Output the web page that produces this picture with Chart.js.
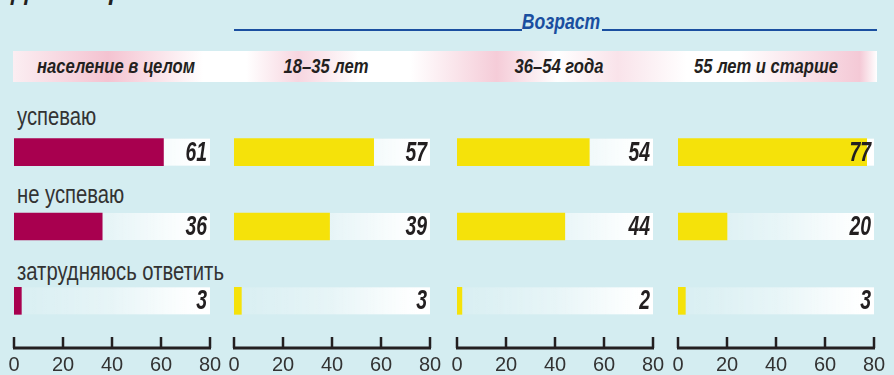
<!DOCTYPE html>
<html>
<head>
<meta charset="utf-8">
<script src="https://cdn.jsdelivr.net/npm/chart.js@4.4.0/dist/chart.umd.min.js"></script>
<style>
  body {
    margin: 0;
    width: 894px;
    height: 375px;
    overflow: hidden;
    position: relative;
    background: #d4edf1;
    font-family: 'Liberation Sans', Arial, sans-serif;
    color: #231f20;
  }
  .abs { position: absolute; white-space: nowrap; }
  .title { left: 12px; top: -22px; font-size: 24px; font-weight: bold; font-style: italic; }
  .band {
    left: 13px; top: 51px; width: 864px; height: 31px;
    background: linear-gradient(90deg, #fbeef2 0%, #f4c3d1 11%, #ffffff 22%, #ffffff 27%, #f7d6e0 33%, #ffffff 40%,
      #ffffff 46%, #f5ccd8 56%, #ffffff 63%, #f9e3ea 70%, #ffffff 78%, #ffffff 84%, #f4c9d6 98%, #ffffff 100%);
  }
  .head { top: 55px; font-size: 20px; font-weight: bold; font-style: italic; transform: translateX(-50%) scaleX(0.83); }
  .age { top: 9px; left: 561px; transform: translateX(-50%) scaleX(0.8); font-size: 22px; font-weight: bold; font-style: italic; color: #1a4fa0; }
  .rule { top: 29px; height: 2px; background: #1a4fa0; }
  .cat { left: 17px; font-size: 25px; color: #333; transform: scaleX(0.81); transform-origin: 0 0; }
  canvas { position: absolute; top: 100px; }
</style>
</head>
<body>
<div class="abs title">Доля опрошенных</div>
<div class="abs rule" style="left:234px;width:288px"></div>
<div class="abs age">Возраст</div>
<div class="abs rule" style="left:602px;width:275px"></div>
<div class="abs band"></div>
<div id="heads"></div>
<div id="cats"></div>

<script>
// ответы и группы
const categories = ['успеваю', 'не успеваю', 'затрудняюсь ответить'];
const groups = ['население в целом', '18–35 лет', '36–54 года', '55 лет и старше'];

// проценты по группам
const totalValues = [61, 36, 3];
const age18to35 = [57, 39, 3];
const age36to54 = [54, 44, 2];
const age55plus = [77, 20, 3];

const tickValues = [0, 20, 40, 60, 80];

const allValues = [totalValues, age18to35, age36to54, age55plus];
const barColors = ['#a8004f', '#f5e20a', '#f5e20a', '#f5e20a'];

// раскладка панелей
const panelLeft = [14, 234, 457, 678];
const headCenter = [116, 326, 559, 766];
const catCenter = [117, 195, 272];

const heads = document.getElementById('heads');
groups.forEach((g, i) => {
  const d = document.createElement('div');
  d.className = 'abs head';
  d.style.left = headCenter[i] + 'px';
  d.textContent = g;
  heads.appendChild(d);
});

const cats = document.getElementById('cats');
categories.forEach((c, i) => {
  const d = document.createElement('div');
  d.className = 'abs cat';
  d.style.top = (catCenter[i] - 15) + 'px';
  d.textContent = c;
  cats.appendChild(d);
});

// белая подложка под каждым столбиком, от 0 до 80
const trackPlugin = {
  id: 'track',
  beforeDatasetsDraw(chart) {
    const ctx = chart.ctx;
    const x = chart.scales.x;
    const left = x.getPixelForValue(tickValues[0]);
    const right = x.getPixelForValue(tickValues[tickValues.length - 1]);
    const g = ctx.createLinearGradient(left, 0, right, 0);
    g.addColorStop(0, 'rgba(255,255,255,0.1)');
    g.addColorStop(0.5, 'rgba(255,255,255,0.45)');
    g.addColorStop(0.85, 'rgba(255,255,255,0.9)');
    g.addColorStop(0.94, 'rgba(255,255,255,1)');
    g.addColorStop(1, 'rgba(255,255,255,1)');
    ctx.save();
    ctx.fillStyle = g;
    chart.getDatasetMeta(0).data.forEach(bar => {
      ctx.fillRect(left, bar.y - bar.height / 2, right - left, bar.height);
    });
    ctx.restore();
  }
};

// значения справа у конца шкалы, узким жирным курсивом
const valuePlugin = {
  id: 'values',
  afterDatasetsDraw(chart) {
    const ctx = chart.ctx;
    const right = chart.scales.x.getPixelForValue(tickValues[tickValues.length - 1]);
    const data = chart.data.datasets[0].data;
    ctx.save();
    ctx.font = "italic bold 27px 'Liberation Sans', Arial, sans-serif";
    ctx.fillStyle = '#231f20';
    ctx.textAlign = 'right';
    ctx.textBaseline = 'middle';
    chart.getDatasetMeta(0).data.forEach((bar, i) => {
      ctx.save();
      ctx.translate(right - 3, bar.y + 1);
      ctx.scale(0.72, 1);
      ctx.fillText(data[i], 0, 0);
      ctx.restore();
    });
    ctx.restore();
  }
};

// ось снизу, засечки смотрят вверх
const axisPlugin = {
  id: 'axisLine',
  afterDraw(chart) {
    const ctx = chart.ctx;
    const x = chart.scales.x;
    const y = chart.chartArea.bottom + 10;
    ctx.save();
    ctx.strokeStyle = '#231f20';
    ctx.lineWidth = 3;
    ctx.beginPath();
    ctx.moveTo(x.getPixelForValue(tickValues[0]) - 1, y);
    ctx.lineTo(x.getPixelForValue(tickValues[tickValues.length - 1]) + 1, y);
    ctx.stroke();
    ctx.lineWidth = 2.5;
    tickValues.forEach(v => {
      const px = x.getPixelForValue(v);
      ctx.beginPath();
      ctx.moveTo(px, y);
      ctx.lineTo(px, y - 11);
      ctx.stroke();
    });
    ctx.restore();
  }
};

allValues.forEach((vals, i) => {
  const canvas = document.createElement('canvas');
  canvas.width = 224;
  canvas.height = 275;
  canvas.style.left = (panelLeft[i] - 14) + 'px';
  document.body.appendChild(canvas);

  new Chart(canvas, {
    type: 'bar',
    data: {
      labels: categories,
      datasets: [{
        data: vals,
        backgroundColor: barColors[i],
        borderWidth: 0,
        barThickness: 27
      }]
    },
    options: {
      indexAxis: 'y',
      responsive: false,
      animation: false,
      devicePixelRatio: 1,
      layout: { padding: { left: 14, right: 14, top: 15, bottom: 0 } },
      plugins: { legend: { display: false }, tooltip: { enabled: false } },
      scales: {
        y: { display: false },
        x: {
          min: 0,
          max: 80,
          afterBuildTicks: s => { s.ticks = tickValues.map(v => ({ value: v })); },
          afterFit: s => { s.paddingLeft = 0; s.paddingRight = 0; s.height = 37; },
          grid: { display: false, drawTicks: false },
          border: { display: false },
          ticks: {
            padding: 15,
            color: '#333',
            maxRotation: 0,
            font: { family: "'Liberation Sans', Arial, sans-serif", size: 20 }
          }
        }
      }
    },
    plugins: [trackPlugin, valuePlugin, axisPlugin]
  });
});
</script>
</body>
</html>
